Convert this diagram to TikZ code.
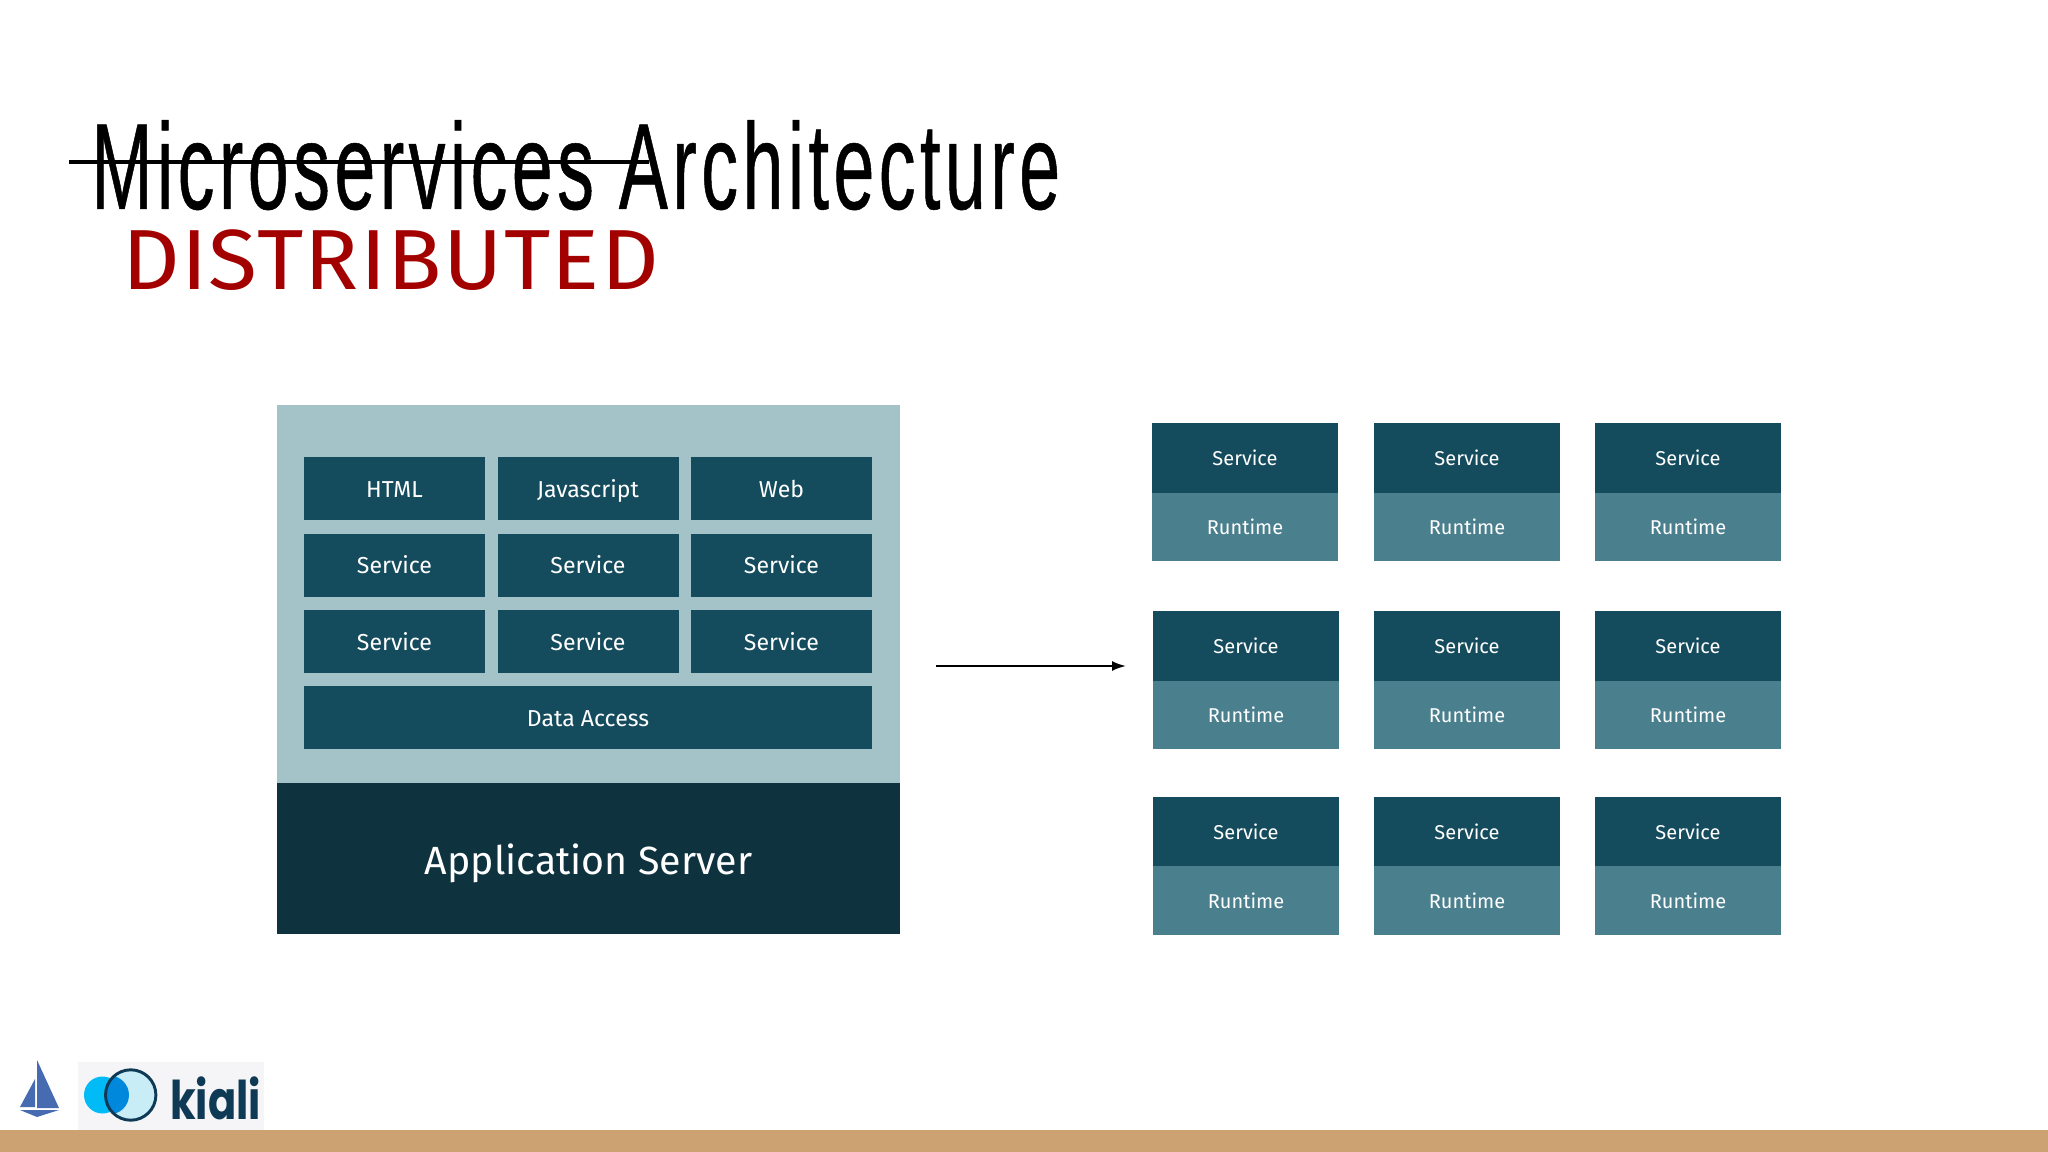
\documentclass[tikz,border=0pt]{standalone}
\usepackage{fontspec}
\usetikzlibrary{arrows.meta}
\setmainfont{Fira Sans}
\newfontfamily\titlefont[FakeStretch=0.6,LetterSpace=3.6,FakeBold=0.4]{Liberation Sans}
\newfontfamily\distfont[FakeStretch=1.05,LetterSpace=1.5]{Fira Sans}
\newfontfamily\logofont[FakeStretch=0.78]{Poppins}
\definecolor{panelcol}{HTML}{A3C3C8}
\definecolor{cellcol}{HTML}{154C5D}
\definecolor{servercol}{HTML}{0F323F}
\definecolor{runtimecol}{HTML}{4A7F8E}
\definecolor{redcol}{HTML}{A30000}
\definecolor{barcol}{HTML}{CCA273}
\definecolor{sailcol}{HTML}{466BB0}
\definecolor{kialibg}{HTML}{F5F5F7}
\definecolor{kialidark}{HTML}{0F3A55}
\definecolor{kialicyan}{HTML}{00BBF5}
\definecolor{kialimid}{HTML}{0088DD}
\definecolor{kialipale}{HTML}{C9EDF7}
\tikzset{
  block/.style={fill=#1,text=white,inner sep=0pt,anchor=center,text depth=0pt},
  cell/.style={block=cellcol,minimum width=135.75pt,minimum height=47.25pt,text height=13.2pt,font=\fontsize{17.3}{20}\selectfont},
  svc/.style={block=cellcol,minimum width=139.5pt,minimum height=52.5pt,text height=11.8pt,font=\fontsize{15}{17}\selectfont},
  rtm/.style={block=runtimecol,minimum width=139.5pt,minimum height=51.5pt,text height=11.8pt,font=\fontsize{15}{17}\selectfont}
}
\begin{document}
\begin{tikzpicture}[x=0.75pt,y=0.75pt,yscale=-1,xscale=1]
\useasboundingbox (0,0) rectangle (2048,1152);
% Bottom bar
\fill [barcol] (0,1130) rectangle (2048,1152);
% Title
\node (title) at (91,209) [anchor=base west,inner sep=0pt,font=\titlefont\fontsize{92}{92}\selectfont] {Microservices Architecture};
\coordinate (strikeL) at (69,162);
\coordinate (strikeR) at (649,162);
\draw [line width=3.5pt] (strikeL) -- (strikeR);
\node (distributed) at (122,289) [anchor=base west,inner sep=0pt,text=redcol,font=\distfont\fontsize{64}{64}\selectfont] {DISTRIBUTED};
% Monolith
\node (panel) at (588.5,594) [block=panelcol,minimum width=467pt,minimum height=283.5pt] {};
\node (server) at (588.5,858.5) [block=servercol,minimum width=467pt,minimum height=113.25pt,text height=24.4pt,font=\fontsize{29.5}{36}\selectfont] {Application Server};
\node (html) at (394.5,488.5) [cell] {HTML};
\node (js) at (588,488.5) [cell] {Javascript};
\node (web) at (781.5,488.5) [cell] {Web};
\node (sa) at (394.5,565) [cell] {Service};
\node (sb) at (588,565) [cell] {Service};
\node (sc) at (781.5,565) [cell] {Service};
\node (sd) at (394.5,641.5) [cell] {Service};
\node (se) at (588,641.5) [cell] {Service};
\node (sf) at (781.5,641.5) [cell] {Service};
\node (data) at (588,717.5) [cell,minimum width=426pt] {Data Access};
% Arrow
\coordinate (arrowL) at (936,666);
\coordinate (arrowR) at (1126,666);
\draw [-{Latex[length=10.5pt,width=7.5pt]},line width=1.5pt] (arrowL) -- (arrowR);
% Row 1
\node (sva) at (1245,458) [svc] {Service};
\node (rta) at (1245,527) [rtm] {Runtime};
\node (svb) at (1467,458) [svc] {Service};
\node (rtb) at (1467,527) [rtm] {Runtime};
\node (svc) at (1688,458) [svc] {Service};
\node (rtc) at (1688,527) [rtm] {Runtime};
% Row 2
\node (svd) at (1246,645.5) [svc] {Service};
\node (rtd) at (1246,715) [rtm] {Runtime};
\node (sve) at (1467,645.5) [svc] {Service};
\node (rte) at (1467,715) [rtm] {Runtime};
\node (svf) at (1688,645.5) [svc] {Service};
\node (rtf) at (1688,715) [rtm] {Runtime};
% Row 3
\node (svg) at (1246,832) [svc] {Service};
\node (rtg) at (1246,900.5) [rtm] {Runtime};
\node (svh) at (1467,832) [svc] {Service};
\node (rth) at (1467,900.5) [rtm] {Runtime};
\node (svi) at (1688,832) [svc] {Service};
\node (rti) at (1688,900.5) [rtm] {Runtime};
% Sail
\fill [sailcol] (37,1060) -- (59,1108) -- (37,1108) -- cycle;
\fill [sailcol] (35,1079) -- (20,1107) -- (35,1107) -- cycle;
\fill [sailcol] (20,1110) -- (59,1110) -- (37,1117) -- cycle;
% Kiali logo
\fill [kialibg] (78,1062) rectangle (264,1130);
\fill [kialicyan] (102.5,1095) circle [radius=18.5];
\fill [kialipale] (130.7,1095) circle [radius=26];
\begin{scope}
\clip (130.7,1095) circle [radius=26];
\fill [kialimid] (109,1095) ellipse [x radius=20, y radius=19.5];
\end{scope}
\draw [kialidark,line width=2.2pt] (130.7,1095) circle [radius=25.2];
\node (kiali) at (170,1119) [anchor=base west,inner sep=0pt,text=kialidark,font=\logofont\bfseries\fontsize{40}{40}\selectfont] {kiali};
\end{tikzpicture}
\end{document}
